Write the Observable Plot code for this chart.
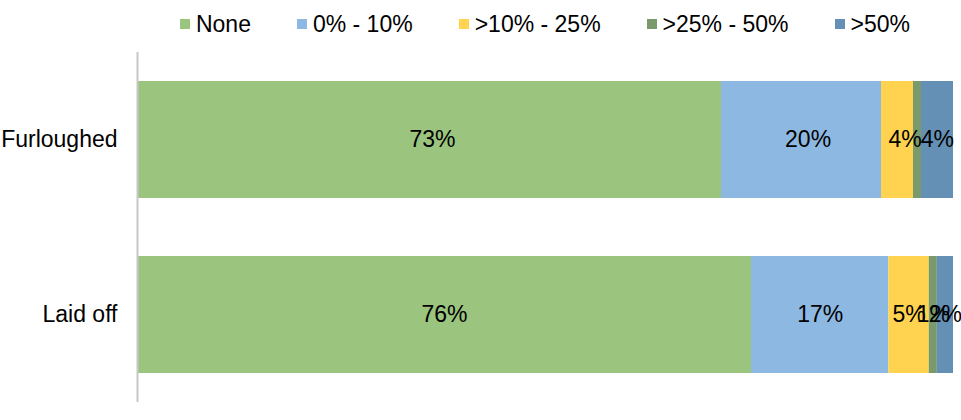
<!DOCTYPE html>
<html>
<head>
<meta charset="utf-8">
<script src="https://cdn.jsdelivr.net/npm/d3@7"></script>
<script src="https://cdn.jsdelivr.net/npm/@observablehq/plot@0.6"></script>
<style>
  html, body { margin: 0; padding: 0; background: #fff; }
  body { width: 961px; height: 420px; overflow: hidden; font-family: "Liberation Sans", Arial, sans-serif; }
  #legend { height: 48px; box-sizing: border-box; padding: 0 8px 0 137px; display: flex; justify-content: center; align-items: center; gap: 46px; font-size: 23px; color: #000; }
  #legend .item { display: flex; align-items: center; }
  #legend .sw { width: 10px; height: 10px; margin-right: 6px; }
  svg { display: block; }
</style>
</head>
<body>
<div id="legend"></div>
<div id="chart"></div>
<script>
const categories = ["Furloughed", "Laid off"];
const seriesNames = ["None", "0% - 10%", ">10% - 25%", ">25% - 50%", ">50%"];
const seriesColors = ["#9BC47F", "#8DB8E2", "#FFD24F", "#7B9A6B", "#6590B5"];
const furloughedValues = [73, 20, 4, 1, 4];
const laidOffValues = [76, 17, 5, 1, 2];
// data labels shown in the reference (Furloughed ">25% - 50%" label is not shown)
const furloughedLabelShown = [true, true, true, false, true];
const laidOffLabelShown = [true, true, true, true, true];

const valuesByCategory = [furloughedValues, laidOffValues];
const shownByCategory = [furloughedLabelShown, laidOffLabelShown];
const data = [];
categories.forEach((c, ci) => {
  seriesNames.forEach((s, si) => {
    data.push({category: c, series: s, value: valuesByCategory[ci][si], shown: shownByCategory[ci][si]});
  });
});

// legend
const legend = document.getElementById("legend");
seriesNames.forEach((s, i) => {
  const item = document.createElement("div");
  item.className = "item";
  const sw = document.createElement("span");
  sw.className = "sw";
  sw.style.background = seriesColors[i];
  const t = document.createElement("span");
  t.textContent = s;
  item.appendChild(sw);
  item.appendChild(t);
  legend.appendChild(item);
});

const stackOpts = {x: "value", y: "category", z: "series", order: seriesNames, offset: "normalize"};

const chart = Plot.plot({
  width: 961,
  height: 372,
  marginLeft: 137,
  marginRight: 8,
  marginTop: 4,
  marginBottom: 18,
  style: {fontFamily: "'Liberation Sans', Arial, sans-serif", fontSize: "23px", color: "#000", background: "#fff"},
  x: {domain: [0, 1], axis: null},
  y: {domain: categories, paddingInner: 0.33, paddingOuter: 0.165, label: null, tickSize: 0, tickPadding: 20},
  color: {domain: seriesNames, range: seriesColors},
  marks: [
    Plot.barX(data, Plot.stackX({...stackOpts, fill: "series"})),
    Plot.text(data.filter(d => d.shown), Plot.stackX({...stackOpts, text: d => d.value + "%", fill: "#000", fontSize: 23})),
    Plot.ruleX([0], {stroke: "#C8C8C8", strokeWidth: 2}),
    Plot.axisY({tickSize: 0, tickPadding: 20, fontSize: 23, fill: "#000", label: null})
  ]
});
document.getElementById("chart").appendChild(chart);
</script>
</body>
</html>
